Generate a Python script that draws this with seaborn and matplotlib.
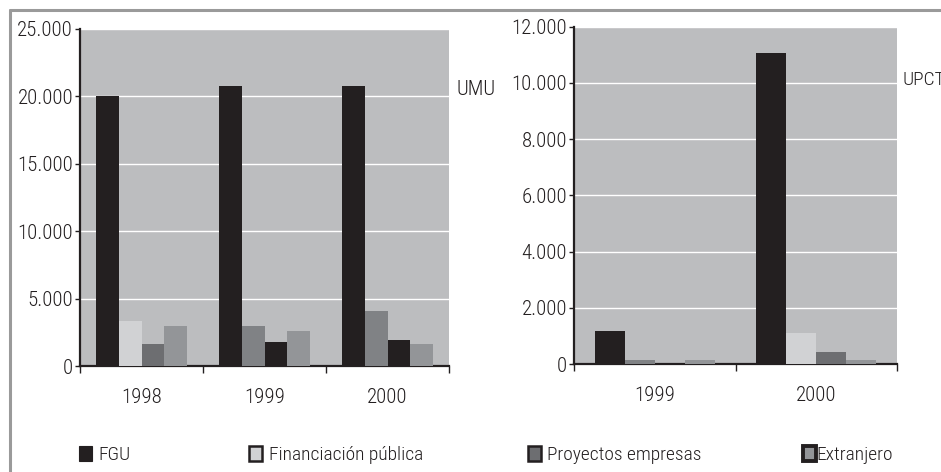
import matplotlib
matplotlib.use("Agg")
import matplotlib.pyplot as plt
from matplotlib import font_manager
from matplotlib.patches import Patch
from matplotlib.lines import Line2D
from matplotlib.ticker import FuncFormatter, FixedLocator
import seaborn as sns
import pandas as pd

# ---- data ----
series = ["FGU", "Financiación pública", "Proyectos empresas", "Extranjero"]
umu_years = ["1998", "1999", "2000"]
umu_fgu = [20000, 20800, 20800]
umu_publica = [3350, 3000, 4100]
umu_empresas = [1600, 1800, 1950]
umu_extranjero = [3000, 2600, 1600]

upct_years = ["1999", "2000"]
upct_fgu = [1170, 11070]
upct_publica = [160, 1100]
upct_empresas = [0, 430]
upct_extranjero = [160, 160]

umu_ticks = [0, 5000, 10000, 15000, 20000, 25000]
upct_ticks = [0, 2000, 4000, 6000, 8000, 10000, 12000]

# ---- style ----
sns.set_theme(style="white")
names = {f.name for f in font_manager.fontManager.ttflist}
pref = ["Roboto Condensed", "Liberation Sans Narrow", "Arial Narrow", "Roboto", "DejaVu Sans"]
fam = next(p for p in pref if p in names or p == "DejaVu Sans")
plt.rcParams["font.family"] = [fam, "DejaVu Sans"]
if any(f.name == fam and str(f.weight) == "300" for f in font_manager.fontManager.ttflist):
    plt.rcParams["font.weight"] = 300
FS = 15.0
LFS = 14.0

BLACK = "#231f20"
LIGHT = "#d1d2d4"
DARK = "#6d6e71"
MID = "#808285"
MID2 = "#939598"
BG = "#bcbdbf"
TXT = "#231f20"

def long_df(years, a, b, c, d):
    rows = []
    for s, vals in zip(series, [a, b, c, d]):
        for y, v in zip(years, vals):
            rows.append({"year": y, "serie": s, "valor": v})
    return pd.DataFrame(rows)

df_umu = long_df(umu_years, umu_fgu, umu_publica, umu_empresas, umu_extranjero)
df_upct = long_df(upct_years, upct_fgu, upct_publica, upct_empresas, upct_extranjero)

fig = plt.figure(figsize=(9.41, 4.72), dpi=100)
W, H = 941, 472
ax1 = fig.add_axes([80 / W, (H - 366) / H, 369 / W, 337 / H])
ax2 = fig.add_axes([574 / W, (H - 364) / H, 323 / W, 337.3 / H])

# per-bar colours as in the original (rows=series, columns=year)
umu_colors = [[BLACK, BLACK, BLACK],
              [LIGHT, MID, MID],
              [DARK, BLACK, BLACK],
              [MID2, MID2, MID2]]
upct_colors = [[BLACK, BLACK],
               [MID, LIGHT],
               [DARK, DARK],
               [MID2, MID2]]

fmt = FuncFormatter(lambda v, p: f"{int(v):,}".replace(",", "."))

def draw(ax, df, years, ticks, colors):
    sns.barplot(data=df, x="year", y="valor", hue="serie", hue_order=series,
                order=years, ax=ax, width=0.74, legend=False, saturation=1,
                err_kws={"linewidth": 0}, palette=[BLACK, LIGHT, DARK, MID2],
                linewidth=0, zorder=3)
    for i, cont in enumerate(ax.containers):
        for j, bar in enumerate(cont):
            bar.set_facecolor(colors[i][j])
            bar.set_edgecolor("none")
    ax.set_facecolor(BG)
    ax.set_ylim(0, ticks[-1])
    ax.set_xlim(-0.5, len(years) - 0.5)
    ax.set_yticks(ticks)
    ax.yaxis.set_major_formatter(fmt)
    ax.yaxis.grid(True, color="white", linewidth=1.0, zorder=1)
    ax.set_axisbelow(True)
    ax.set_xlabel("")
    ax.set_ylabel("")
    for s in ["top", "right"]:
        ax.spines[s].set_visible(False)
    for s in ["left", "bottom"]:
        ax.spines[s].set_color(BLACK)
        ax.spines[s].set_linewidth(1.6)
    ax.tick_params(axis="y", which="major", left=True, length=3.5, width=1,
                   color=BLACK, labelsize=FS, labelcolor=TXT, pad=1.5)
    ax.tick_params(axis="x", which="major", bottom=False, labelsize=FS,
                   labelcolor=TXT, pad=10)
    ax.xaxis.set_minor_locator(FixedLocator([k - 0.5 for k in range(len(years) + 1)]))
    ax.tick_params(axis="x", which="minor", bottom=True, length=5, width=1, color=BLACK)

draw(ax1, df_umu, umu_years, umu_ticks, umu_colors)
draw(ax2, df_upct, upct_years, upct_ticks, upct_colors)

fig.text(456 / W, 1 - 90 / H, "UMU", fontsize=FS, color=TXT, va="center", ha="left")
fig.text(902 / W, 1 - 80 / H, "UPCT", fontsize=FS - 1, color=TXT, va="center", ha="left")

# frame lines
fig.add_artist(Line2D([10 / W, 1], [1 - 10 / H, 1 - 10 / H], color="#9a9a9a", linewidth=2.2))
fig.add_artist(Line2D([10 / W, 10 / W], [0, 1 - 10 / H], color="#9a9a9a", linewidth=2.2))

handles = [Patch(facecolor=BLACK, edgecolor=BLACK, linewidth=0.8),
           Patch(facecolor=LIGHT, edgecolor=BLACK, linewidth=1.8),
           Patch(facecolor=DARK, edgecolor=BLACK, linewidth=1.8),
           Patch(facecolor=MID2, edgecolor=BLACK, linewidth=2.8)]
em = LFS * 100 / 72
box_x = [79, 249, 528, 803]
pads = [6, 7, 6, 0.5]
for h, lab, x, pd_ in zip(handles, series, box_x, pads):
    fig.legend([h], [lab], loc="center left", bbox_to_anchor=(x / W, 1 - 455 / H),
               frameon=False, fontsize=LFS, handlelength=13 / em, handleheight=16 / em,
               handletextpad=pd_ / em, labelcolor=TXT, borderaxespad=0, borderpad=0)

fig.savefig("out.png", dpi=100)
